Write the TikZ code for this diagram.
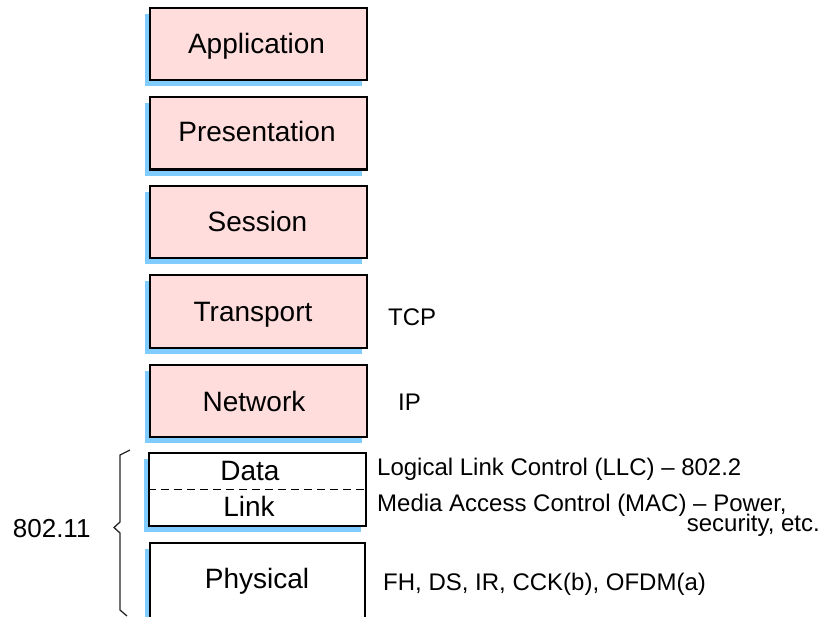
\documentclass[tikz,border=0pt]{standalone}
\usepackage{fontspec}
\setmainfont{Liberation Sans}
\usetikzlibrary{shadows}
\definecolor{pinkfill}{RGB}{255,221,221}
\definecolor{shadowblue}{RGB}{128,204,255}
\begin{document}
\begin{tikzpicture}[x=1pt,y=-1pt,
  layerbox/.style={draw=black, line width=2.3pt, minimum width=217pt, minimum height=72.5pt, inner sep=0pt,
    general shadow={shadow xshift=-5pt, shadow yshift=-6pt, fill=shadowblue}},
  pinkbox/.style={layerbox, fill=pinkfill},
  whitebox/.style={layerbox, fill=white},
  boxtext/.style={font=\fontsize{28}{30}\selectfont, anchor=base, inner sep=0pt},
  sidetext/.style={font=\fontsize{24}{26}\selectfont, anchor=base west, inner sep=0pt},
  bracestyle/.style={draw=black!85, line width=1.3pt, line join=miter}]
\useasboundingbox (0,0) rectangle (824,616);
\clip (0,0) rectangle (824,616);

% upper layers
\node[pinkbox] (app)   at (258.5,44)    {};
\node[pinkbox] (pres)  at (258.5,133.3) {};
\node[pinkbox] (sess)  at (258.5,222)   {};
\node[pinkbox] (trans) at (258.5,311.5) {};
\node[pinkbox] (net)   at (258.5,401)   {};

\node[boxtext] (appt)   at (256.5,53.3)  {Application};
\node[boxtext] (prest)  at (257,141.7)   {Presentation};
\node[boxtext] (sesst)  at (257.5,231.7) {Session};
\node[boxtext] (transt) at (253,321.7)   {Transport};
\node[boxtext] (nett)   at (254,411.7)   {Network};

% data link
\node[whitebox, minimum height=73pt] (dl) at (257.5,489.5) {};
\draw[line width=1pt, dash pattern=on 8pt off 5pt] (dl.west) -- (dl.east);
\node[boxtext] (datat) at (250,480)   {Data};
\node[boxtext] (linkt) at (249,516.7) {Link};

% physical
\node[whitebox, minimum height=87pt, minimum width=215pt] (phy) at (257.5,586.5) {};
\node[boxtext] (phyt) at (257,588) {Physical};

% side labels
\node[sidetext] (tcp) at (388,325)   {TCP};
\node[sidetext] (ip)  at (398,410)   {IP};
\node[sidetext] (llc) at (377,475)   {Logical Link Control (LLC) – 802.2};
\node[sidetext] (mac) at (377,511.7) {Media Access Control (MAC) – Power,};
\node[sidetext, anchor=base east] (sec) at (820,531.7) {security, etc.};
\node[sidetext] (fh)  at (383,590)   {FH, DS, IR, CCK(b), OFDM(a)};

% brace and 802.11
\coordinate (bt) at (130,450);
\coordinate (bb) at (127,616);
\coordinate (btip) at (114,527.5);
\draw[bracestyle] (bt) -- (120,455) -- (120,522) -- (btip) -- (120,533) -- (120,610) -- (bb);
\node[font=\fontsize{26}{28}\selectfont, anchor=base west, inner sep=0pt] (std) at (12.7,537) {802.11};
\end{tikzpicture}
\end{document}
